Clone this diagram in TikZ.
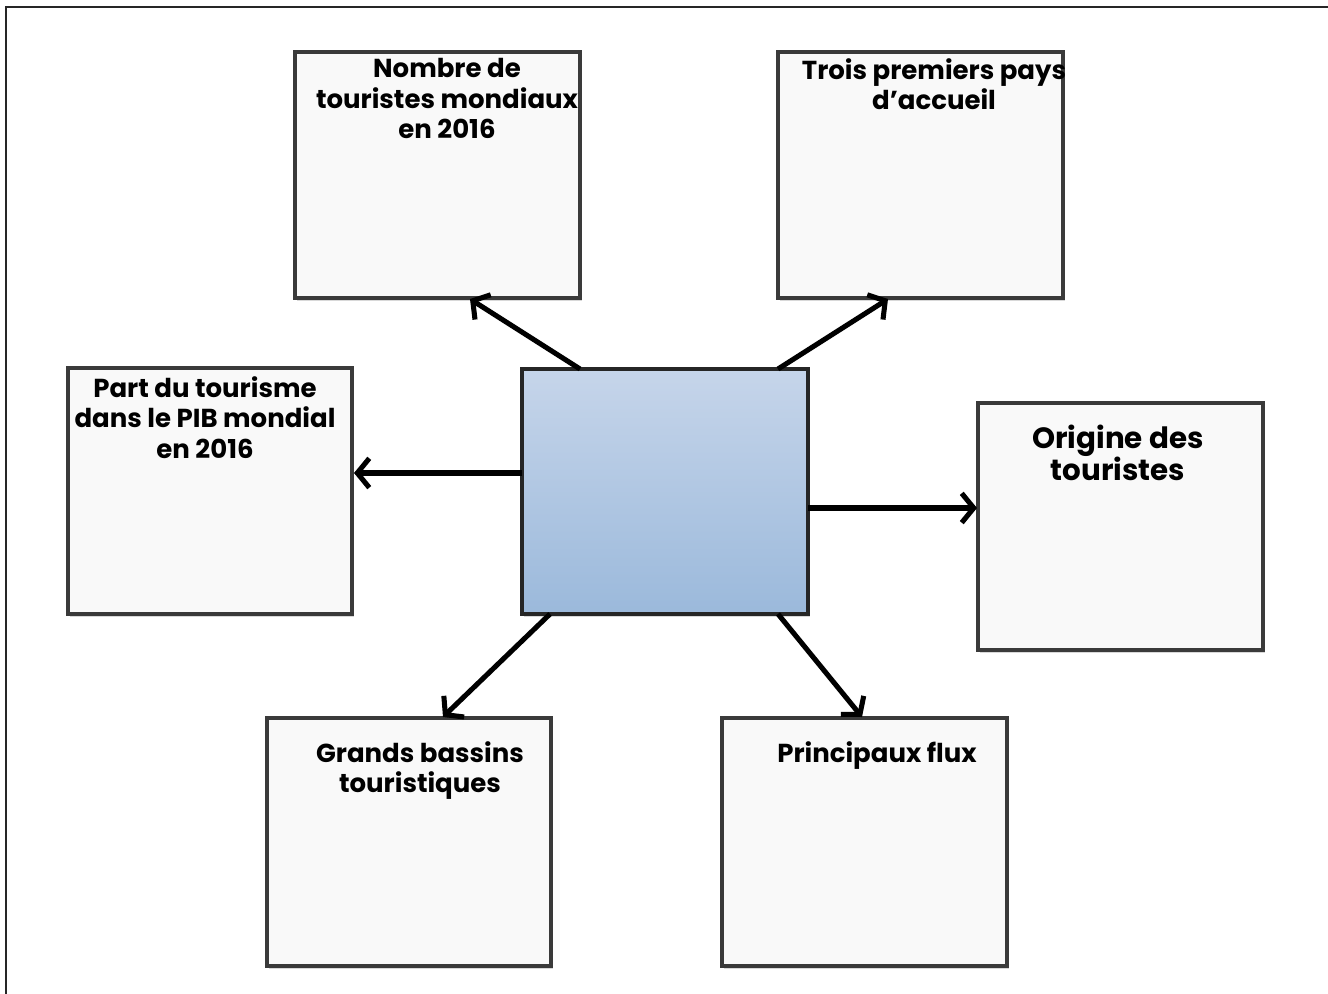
\documentclass[tikz,border=0pt]{standalone}
\usepackage{fontspec}
\setmainfont{Poppins}
\usetikzlibrary{arrows.meta,shadows}
\definecolor{boxfill}{HTML}{F9F9F9}
\definecolor{boxline}{HTML}{3A3A3A}
\definecolor{ctop}{HTML}{C6D5EA}
\definecolor{cbot}{HTML}{9BB9DB}
\tikzset{
  infobox/.style={draw=boxline, line width=3pt, fill=boxfill, inner sep=0pt,
    drop shadow={opacity=0.3, shadow xshift=1.5pt, shadow yshift=-2pt}},
  hubbox/.style={draw=black!85, line width=2.6pt, top color=ctop, bottom color=cbot, inner sep=0pt,
    drop shadow={opacity=0.3, shadow xshift=1.5pt, shadow yshift=-2pt}},
  lbl/.style={align=center, inner sep=0pt, anchor=north, font=\bfseries\fontsize{19.5}{23}\selectfont},
  biglbl/.style={align=center, inner sep=0pt, anchor=north, font=\bfseries\fontsize{22}{24}\selectfont},
  conn/.style={line width=3.8pt, -{Straight Barb[length=9pt,width=22pt]}},
}
\begin{document}
\begin{tikzpicture}[x=0.75pt,y=-0.75pt]
\useasboundingbox (0,0) rectangle (1328,994);
\fill[white] (0,0) rectangle (1328,994);
\draw[line width=1.6pt, black!85] (6,1000) -- (6,7) -- (1335,7);
% boxes
\node[infobox, minimum width=213.75pt, minimum height=184.5pt] (nombre) at (437.5,175) {};
\node[infobox, minimum width=213.75pt, minimum height=184.5pt] (trois) at (920.5,175) {};
\node[infobox, minimum width=213pt, minimum height=184.5pt] (part) at (210,491) {};
\node[hubbox, minimum width=214.5pt, minimum height=183.75pt] (hub) at (665,491.5) {};
\node[infobox, minimum width=213.75pt, minimum height=185.25pt] (origine) at (1120.5,526.5) {};
\node[infobox, minimum width=213pt, minimum height=186pt] (grands) at (409,842) {};
\node[infobox, minimum width=213.75pt, minimum height=186pt] (principaux) at (864.5,842) {};
% labels
\node[lbl] (tnombre) at (447,58) {Nombre de\\touristes mondiaux\\en 2016};
\node[lbl] (ttrois) at (934,58) {Trois premiers pays\\d’accueil};
\node[lbl] (tpart) at (205,376) {Part du tourisme\\dans le PIB mondial\\en 2016};
\node[biglbl] (torigine) at (1118,425) {Origine des\\touristes};
\node[lbl] (tgrands) at (420,741) {Grands bassins\\touristiques};
\node[lbl] (tprincipaux) at (877,741) {Principaux flux};
% connectors
\coordinate (h1) at (580,369);
\coordinate (n1) at (470,299);
\coordinate (h2) at (778,369);
\coordinate (t1) at (888,299);
\coordinate (h3) at (522,473);
\coordinate (p1) at (354,473);
\coordinate (h4) at (808,508);
\coordinate (o1) at (977,508);
\coordinate (h5) at (550,614);
\coordinate (g1) at (443,717);
\coordinate (h6) at (778,614);
\coordinate (r1) at (862,717);
\draw[conn] (h1) -- (n1);
\draw[conn] (h2) -- (t1);
\draw[conn] (h3) -- (p1);
\draw[conn] (h4) -- (o1);
\draw[conn] (h5) -- (g1);
\draw[conn] (h6) -- (r1);
\end{tikzpicture}
\end{document}
